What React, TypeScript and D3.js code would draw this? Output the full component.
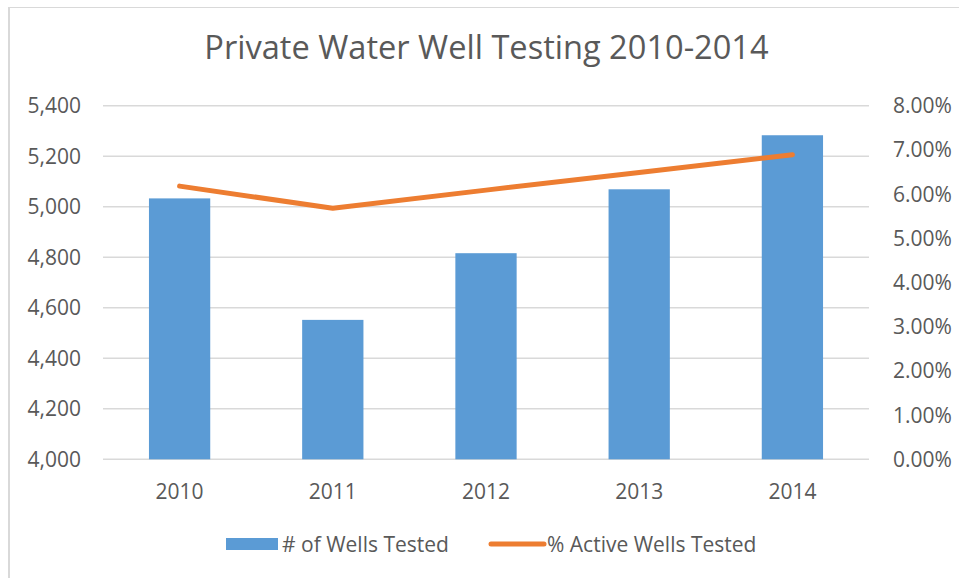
import React from 'react';
import * as d3 from 'd3';

const years = ['2010', '2011', '2012', '2013', '2014'];
const wellsTested = [5033, 4552, 4816, 5069, 5283];
const pctActiveTested = [6.18, 5.68, 6.09, 6.49, 6.89];
const leftTicks = [4000, 4200, 4400, 4600, 4800, 5000, 5200, 5400];
const rightTicks = [0, 1, 2, 3, 4, 5, 6, 7, 8];
const title = 'Private Water Well Testing 2010-2014';
const seriesNames = ['# of Wells Tested', '% Active Wells Tested'];

const W = 959, H = 578;
const plot = { left: 103, right: 869, top: 105.7, bottom: 459.3 };
const FONT = "'Open Sans', sans-serif";
const TEXT = '#595959';
const GRID = '#d9d9d9';
const BLUE = '#5b9bd5';
const ORANGE = '#ed7d31';

export default function App() {
  const x = d3.scaleBand<string>().domain(years).range([plot.left, plot.right]).paddingInner(0.6).paddingOuter(0.3);
  const yL = d3.scaleLinear().domain([4000, 5400]).range([plot.bottom, plot.top]);
  const yR = d3.scaleLinear().domain([0, 8]).range([plot.bottom, plot.top]);
  const fmtL = d3.format(',');
  const fmtR = (v: number) => v.toFixed(2) + '%';
  const line = d3.line<number>()
    .x((_, i) => (x(years[i]) as number) + x.bandwidth() / 2)
    .y((d) => yR(d));

  return (
    <svg width={W} height={H} style={{ position: 'absolute', left: 0, top: 0, background: '#fff' }} fontFamily={FONT}>
      <rect x={0} y={0} width={W} height={H} fill="#fff" />
      <line x1={9} x2={9} y1={7} y2={H} stroke={GRID} strokeWidth={2} />
      <line x1={8} x2={W} y1={7.5} y2={7.5} stroke={GRID} strokeWidth={1} />
      <text x={486.5} y={58.5} textAnchor="middle" fontSize={32.6} fill={TEXT}>{title}</text>

      {leftTicks.map((t) => (
        <line key={'g' + t} x1={plot.left} x2={plot.right} y1={yL(t)} y2={yL(t)} stroke={GRID} strokeWidth={1.5} />
      ))}
      {leftTicks.map((t) => (
        <text key={'l' + t} x={81} y={yL(t)} dy="0.36em" textAnchor="end" fontSize={21} fill={TEXT}>{fmtL(t)}</text>
      ))}
      {rightTicks.map((t) => (
        <text key={'r' + t} x={893} y={yR(t)} dy="0.36em" textAnchor="start" fontSize={21} fill={TEXT}>{fmtR(t)}</text>
      ))}

      {years.map((yr, i) => (
        <rect key={'b' + yr} x={x(yr)} y={yL(wellsTested[i])} width={x.bandwidth()} height={plot.bottom - yL(wellsTested[i])} fill={BLUE} />
      ))}
      {years.map((yr) => (
        <text key={'x' + yr} x={(x(yr) as number) + x.bandwidth() / 2} y={499} textAnchor="middle" fontSize={21} fill={TEXT}>{yr}</text>
      ))}

      <path d={line(pctActiveTested) || ''} fill="none" stroke={ORANGE} strokeWidth={5} strokeLinecap="round" strokeLinejoin="round" />

      <rect x={226} y={538} width={52} height={12} fill={BLUE} />
      <text x={282} y={544} dy="0.36em" fontSize={21} fill={TEXT}>{seriesNames[0]}</text>
      <line x1={491} x2={544} y1={544} y2={544} stroke={ORANGE} strokeWidth={5} strokeLinecap="round" />
      <text x={547} y={544} dy="0.36em" fontSize={21} fill={TEXT}>{seriesNames[1]}</text>
    </svg>
  );
}
